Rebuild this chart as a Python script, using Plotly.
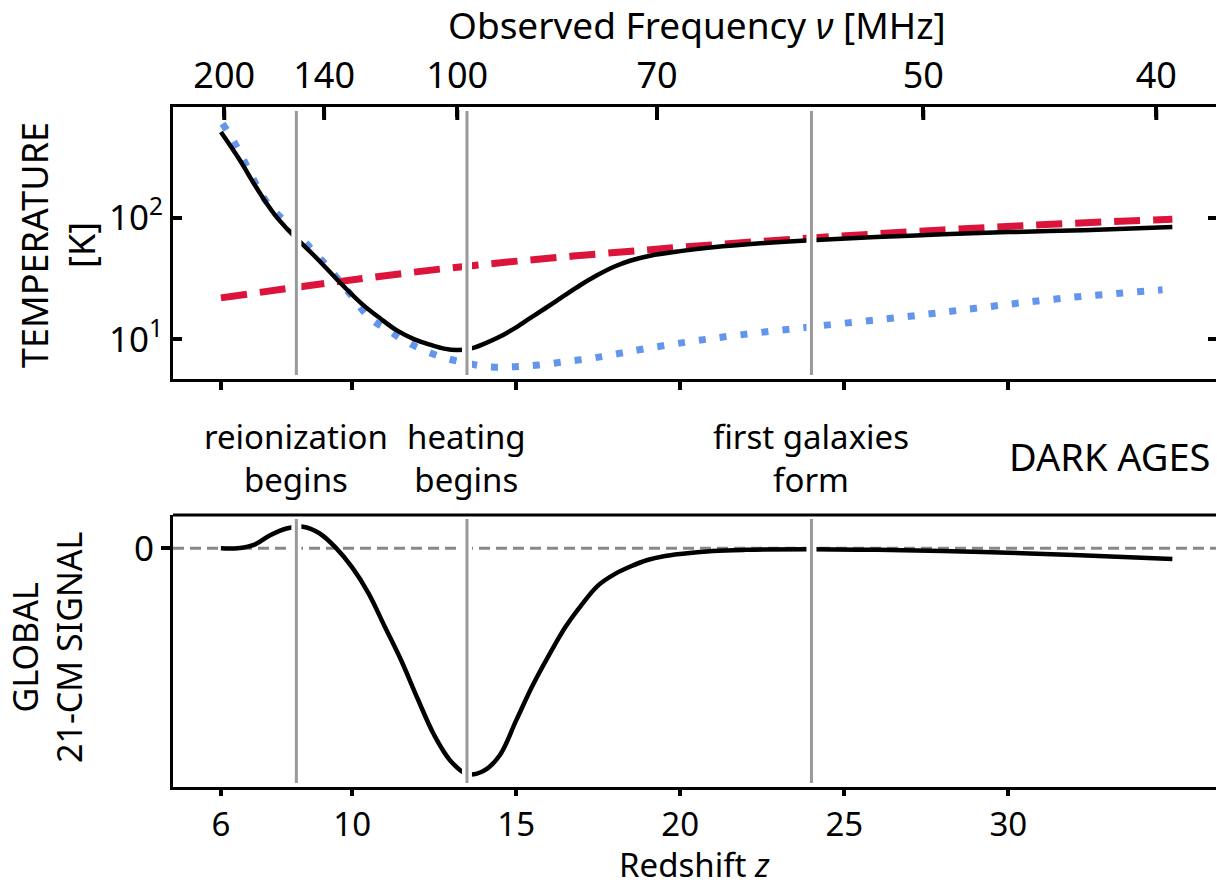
import plotly.graph_objects as go

# ---------------- data ----------------
# Top panel: temperatures [K] vs redshift z
z_spin = [6, 6.58, 7.0, 7.39, 7.7, 8.0, 8.3, 8.8, 9.33, 9.8, 10.34, 10.85, 11.35, 11.9,
          12.4, 12.8, 13.2, 13.6, 14.0, 14.4, 14.9, 15.4, 15.9, 16.44, 16.95, 17.45, 18.0,
          18.47, 19.08, 20, 21, 22.35, 24, 27, 30, 32.3, 35]
T_spin = [503, 295, 191, 131, 100.6, 81.7, 67.6, 50, 35.6, 26.3, 19.1, 14.9, 11.9, 10.0,
          9.0, 8.4, 8.17, 8.4, 9.15, 10.2, 12.1, 14.8, 18.1, 22.6, 27.8, 33.4, 39.6,
          44.2, 48.6, 53, 57, 61.2, 65.2, 71, 75.9, 78.7, 83.7]

z_cmb = [6, 9.3, 13.5, 18.9, 24, 28, 31.3, 35]
T_cmb = [21.9, 29.1, 39.9, 54, 68, 79, 88, 97]

z_gas = [6.05, 6.4, 6.7, 6.98, 7.29, 7.7, 8.15, 8.51, 9.0, 9.5, 10.0, 10.54, 11.1, 11.66,
         12.3, 12.88, 13.5, 14.1, 14.7, 15.32, 16.0, 16.64, 17.3, 17.86, 18.98, 21, 24,
         27, 29, 31.6, 34.7]
T_gas = [590, 417, 295, 209, 147, 108, 83.8, 65.2, 47, 33, 22.5, 14.9, 11.9, 9.55,
         7.9, 6.98, 6.4, 5.96, 5.94, 6.04, 6.3, 6.64, 7.0, 7.43, 8.43, 10.2, 12.7,
         15.5, 18, 21.7, 25.5]

# Bottom panel: global 21-cm signal (arbitrary units, minimum = -100)
z_sig = [6, 6.5, 7.0, 7.5, 8.0, 8.5, 9.0, 9.5, 10.0, 10.5, 11.0, 11.5, 12.0, 12.5, 13.0,
         13.5, 14.0, 14.5, 15.0, 15.5, 16.0, 16.5, 17.0, 17.5, 18.0, 18.5, 19.0, 19.5,
         20, 21, 22, 24, 26, 28, 30, 32, 35]
sig = [0, 0, 1.5, 5.8, 8.8, 9.6, 6.7, 0.3, -8.5, -20, -35, -50, -67, -83, -94.5,
       -100.3, -99, -92, -76.5, -61, -47.5, -35, -25, -16.5, -11.5, -8, -5.2, -3.5,
       -2.5, -1.2, -0.7, -0.4, -0.7, -1.2, -2, -3, -4.8]

# Events (redshift) and labels
event_z = [8.3, 13.5, 24]
event_labels = ["reionization<br>begins", "heating<br>begins", "first galaxies<br>form"]

# Axis ticks
z_ticks = [6, 10, 15, 20, 25, 30]
freq_ticks = [200, 140, 100, 70, 50, 40]   # MHz
T_ticks = [10, 100]
T_ticktext = ["10<sup>1</sup>", "10<sup>2</sup>"]

# ---------------- layout constants ----------------
W, H = 1217, 887
ML, MR, MT, MB = 173, 1, 107, 100
PW, PH = W - ML - MR, H - MT - MB
FONT = "Noto Sans"
Z_RANGE = [4.54, 36.33]
T_RANGE = [0.675, 2.907]
TOP_PANEL_PX = 0.4 * PH


def px(x):
    return (x - ML) / PW


def py(y):
    return (H - MB - y) / PH


nu21 = 1420.4
freq_pos = [nu21 / f - 1 for f in freq_ticks]

fig = go.Figure()

fig.add_trace(go.Scatter(x=z_cmb, y=T_cmb, mode="lines", xaxis="x", yaxis="y",
                         line=dict(color="#DC143C", width=7, dash="26px,13px", shape="spline"),
                         showlegend=False))
fig.add_trace(go.Scatter(x=z_gas, y=T_gas, mode="lines", xaxis="x", yaxis="y",
                         line=dict(color="#6495ED", width=7, dash="7px,14px", shape="spline"),
                         showlegend=False))
fig.add_trace(go.Scatter(x=z_spin, y=T_spin, mode="lines", xaxis="x", yaxis="y",
                         line=dict(color="black", width=4.5, shape="spline"),
                         showlegend=False))
# helper (invisible) traces so that the overlay axes are drawn
fig.add_trace(go.Scatter(x=[z_ticks[0]], y=[T_ticks[1]], mode="markers", xaxis="x3", yaxis="y",
                         marker=dict(opacity=0), showlegend=False, hoverinfo="skip"))
fig.add_trace(go.Scatter(x=[z_ticks[0]], y=[T_ticks[1]], mode="markers", xaxis="x", yaxis="y3",
                         marker=dict(opacity=0), showlegend=False, hoverinfo="skip"))

# zero line (bottom)
fig.add_trace(go.Scatter(x=[Z_RANGE[0], Z_RANGE[1]], y=[0, 0], mode="lines", xaxis="x2", yaxis="y2",
                         line=dict(color="#888888", width=3, dash="11px,6px"),
                         showlegend=False, hoverinfo="skip"))
fig.add_trace(go.Scatter(x=z_sig, y=sig, mode="lines", xaxis="x2", yaxis="y2",
                         line=dict(color="black", width=4.5, shape="spline", smoothing=1.0),
                         showlegend=False))

shapes = []
for zz in event_z:
    for xr, yref in [("x", "y domain"), ("x2", "y2 domain")]:
        shapes.append(dict(type="line", xref=xr, yref=yref,
                           x0=zz, x1=zz, y0=0.01, y1=0.99, layer="above",
                           line=dict(color="white", width=10)))
        shapes.append(dict(type="line", xref=xr, yref=yref,
                           x0=zz, x1=zz, y0=0.015, y1=0.985, layer="above",
                           line=dict(color="#999999", width=3)))
# top frame line of bottom panel
shapes.append(dict(type="line", xref="paper", yref="y2 domain", x0=0, x1=1, y0=1, y1=1,
                   layer="above", line=dict(color="black", width=3)))
# inward tick marks of the frequency axis (at the frequency tick positions)
for fp in freq_pos:
    shapes.append(dict(type="line", xref="x", yref="y domain", x0=fp, x1=fp,
                       y0=1 - 3 / TOP_PANEL_PX, y1=1 - 13 / TOP_PANEL_PX, layer="above",
                       line=dict(color="black", width=4)))

annotations = []
for zz, lab in zip(event_z, event_labels):
    annotations.append(dict(x=zz, xref="x2", y=py(458), yref="paper", text=lab,
                            showarrow=False, font=dict(size=33, color="black", family=FONT),
                            xanchor="center", yanchor="middle"))
annotations.append(dict(x=px(1212), y=py(456), xref="paper", yref="paper", text="DARK AGES",
                        showarrow=False, font=dict(size=38, color="black", family=FONT),
                        xanchor="right", yanchor="middle"))
annotations.append(dict(x=px(697), y=py(24), xref="paper", yref="paper",
                        text="Observed Frequency <i>ν</i> [MHz]", showarrow=False,
                        font=dict(size=37, color="black", family=FONT),
                        xanchor="center", yanchor="middle"))
annotations.append(dict(x=px(694), y=py(864), xref="paper", yref="paper",
                        text="Redshift <i>z</i>", showarrow=False,
                        font=dict(size=33, color="black", family=FONT),
                        xanchor="center", yanchor="middle"))
annotations.append(dict(x=px(58), y=py(245), xref="paper", yref="paper",
                        text="TEMPERATURE<br>[K]", showarrow=False, textangle=-90,
                        font=dict(size=36, color="black", family=FONT),
                        xanchor="center", yanchor="middle"))
annotations.append(dict(x=px(47), y=py(648), xref="paper", yref="paper",
                        text="GLOBAL<br>21-CM SIGNAL", showarrow=False, textangle=-90,
                        font=dict(size=34, color="black", family=FONT),
                        xanchor="center", yanchor="middle"))

tickfont = dict(size=35, color="black", family=FONT)

fig.update_layout(
    width=W, height=H,
    margin=dict(l=ML, r=MR, t=MT, b=MB, pad=0),
    paper_bgcolor="white", plot_bgcolor="white",
    font=dict(family=FONT, color="black"),
    showlegend=False,
    xaxis=dict(domain=[0, 1], anchor="y", range=Z_RANGE, tickvals=z_ticks, showticklabels=False,
               ticks="outside", ticklen=8, tickwidth=4, tickcolor="black",
               showline=True, linecolor="black", linewidth=3, showgrid=False, zeroline=False),
    xaxis3=dict(overlaying="x", anchor="y", side="top", range=Z_RANGE, tickvals=freq_pos,
                ticktext=[str(f) for f in freq_ticks], ticks="inside", ticklen=10, tickwidth=4,
                tickcolor="black", tickfont=dict(size=36, color="black", family=FONT),
                ticklabelstandoff=2,
                showline=True, linecolor="black", linewidth=3, showgrid=False, zeroline=False),
    yaxis=dict(domain=[0.6, 1], anchor="x", type="log", range=T_RANGE,
               tickvals=T_ticks, ticktext=T_ticktext, ticks="inside", ticklen=9, tickwidth=4,
               tickcolor="black", tickfont=tickfont, showline=True, linecolor="black",
               linewidth=3, showgrid=False, zeroline=False),
    yaxis3=dict(overlaying="y", anchor="x", side="right", type="log", range=T_RANGE,
                tickvals=T_ticks, showticklabels=False, ticks="inside", ticklen=8, tickwidth=4,
                tickcolor="black", showline=False, showgrid=False, zeroline=False),
    xaxis2=dict(domain=[0, 1], anchor="y2", range=Z_RANGE, tickvals=z_ticks,
                ticktext=[str(t) for t in z_ticks], ticks="outside", ticklen=6, tickwidth=4,
                tickcolor="black", tickfont=dict(size=33, color="black", family=FONT),
                showline=True, linecolor="black", linewidth=3, showgrid=False, zeroline=False),
    yaxis2=dict(domain=[0, 0.4], anchor="x2", range=[-106.1, 14.8], tickvals=[0], ticktext=["0"],
                ticks="outside", ticklen=9, tickwidth=4, tickcolor="black", tickfont=tickfont,
                showline=True, linecolor="black", linewidth=3, showgrid=False, zeroline=False),
    shapes=shapes,
    annotations=annotations,
)

fig.write_html("out.html")
